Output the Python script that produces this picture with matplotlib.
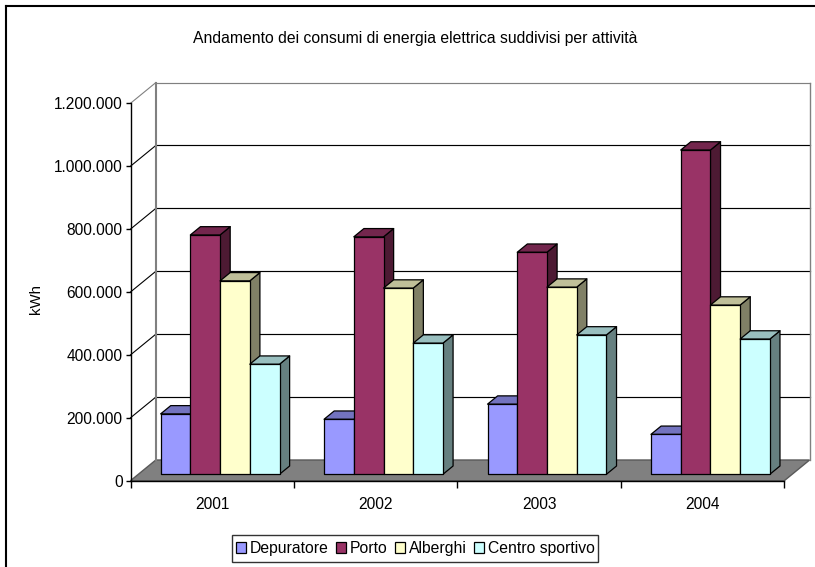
"""Andamento consumi elettrici per attivita': Excel-style 3D clustered bars drawn on a 2D axes."""
import matplotlib
matplotlib.use("Agg")
import matplotlib.pyplot as plt
from matplotlib.patches import Polygon, Rectangle
from matplotlib.ticker import FuncFormatter

plt.rcParams["font.family"] = ["Liberation Sans", "DejaVu Sans"]

years = ["2001", "2002", "2003", "2004"]
series_names = ["Depuratore", "Porto", "Alberghi", "Centro sportivo"]
depuratore = [192000, 175000, 223000, 127000]
porto = [761000, 755000, 706000, 1031000]
alberghi = [615000, 592000, 595000, 538000]
centro = [350000, 417000, 443000, 430000]
series_values = [depuratore, porto, alberghi, centro]

front_colors = ["#9999FF", "#993366", "#FFFFCC", "#CCFFFF"]
top_colors = ["#7373BF", "#73264D", "#BFBF99", "#99BFBF"]
side_colors = ["#4D4D80", "#4D1A33", "#808066", "#668080"]

W, H = 815, 567
fig = plt.figure(figsize=(W / 100, H / 100), dpi=100)
# axes is the front plane of the 3D box
ax = fig.add_axes([130.5 / W, 1 - 480.7 / H, 653.8 / W, 377.4 / H])
ax.set_xlim(0, 4)
ax.set_ylim(0, 1200000)
ax.patch.set_alpha(0)

# depth of the box and of the bars, in data units
DX = 25.3 * 4 / 653.8
DY = 20.7 * 1200000 / 377.4
BAR_START = 0.31
BAR_DEPTH = 0.40
BAR_W = 29.72 * 4 / 653.8


def poly(pts, z, **kw):
    ax.add_patch(Polygon(pts, closed=True, clip_on=False, zorder=z, **kw))


# floor
poly([(0, 0), (4, 0), (4 + DX, DY), (DX, DY)], 1, fc="#808080", ec="#595959", lw=1)

# back wall and side wall gridlines
for v in range(200000, 1200001, 200000):
    top = v == 1200000
    c = "#808080" if top else "black"
    ax.plot([DX, 4 + DX], [v + DY, v + DY], color=c, lw=0.85, clip_on=False, zorder=1.5)
    ax.plot([0, DX], [v, v + DY], color=c, lw=0.8, clip_on=False, zorder=1.5)
ax.plot([DX, DX], [DY, 1200000 + DY], color="#808080", lw=1.5, clip_on=False, zorder=1.6)
ax.plot([4 + DX, 4 + DX], [DY, 1200000 + DY], color="#808080", lw=1, clip_on=False, zorder=1.6)

# bars, left to right so that each side face is covered by the next bar
dx0, dy0 = BAR_START * DX, BAR_START * DY
dx1, dy1 = (BAR_START + BAR_DEPTH) * DX, (BAR_START + BAR_DEPTH) * DY
edge = dict(ec="black", lw=0.9, joinstyle="round")
for c, year in enumerate(years):
    left = c + (1 - 4 * BAR_W) / 2
    for s, vals in enumerate(series_values):
        v = vals[c]
        x0 = left + s * BAR_W + dx0
        x1 = x0 + BAR_W
        z = 2 + c + s * 0.1
        xb0, xb1 = x0 + dx1 - dx0, x1 + dx1 - dx0
        poly([(x1, dy0), (xb1, dy1), (xb1, v + dy1), (x1, v + dy0)], z,
             fc=side_colors[s], **edge)
        poly([(x0, v + dy0), (x1, v + dy0), (xb1, v + dy1), (xb0, v + dy1)], z,
             fc=top_colors[s], **edge)
        poly([(x0, dy0), (x1, dy0), (x1, v + dy0), (x0, v + dy0)], z,
             fc=front_colors[s], **edge)

# axes, ticks, labels
for side in ("top", "right"):
    ax.spines[side].set_visible(False)
ax.spines["left"].set_linewidth(1)
ax.spines["bottom"].set_linewidth(1)
ax.set_yticks(range(0, 1200001, 200000))
ax.yaxis.set_major_formatter(FuncFormatter(lambda v, _: f"{int(v):,}".replace(",", ".")))
ax.set_xticks(range(5))
ax.set_xticklabels([])
ax.set_xticks([i + 0.5 for i in range(4)], years, minor=True)
ax.tick_params(axis="x", which="minor", length=0, labelsize=11.2, pad=11.5)
ax.tick_params(axis="x", which="major", length=5, width=1)
ax.tick_params(axis="y", length=3.6, width=1, labelsize=11.2, pad=2)
ax.set_ylabel("kWh", fontsize=10.8)
ax.yaxis.set_label_coords((43 - 130.5) / 653.8, 0.482)

fig.text(415 / W, 1 - 38.5 / H, "Andamento dei consumi di energia elettrica suddivisi per attività",
         ha="center", va="center", fontsize=11.3)

# chart border, open at right and bottom
fig.add_artist(plt.Line2D([6 / W, 6 / W], [0, 1 - 6 / H], color="black", lw=1.5))
fig.add_artist(plt.Line2D([6 / W, 1], [1 - 6 / H, 1 - 6 / H], color="black", lw=1.5))

# legend with its own frame, the box is taller than matplotlib would make it
fig.add_artist(Rectangle((231.7 / W, 1 - 562 / H), 366.6 / W, 27 / H, transform=fig.transFigure,
                         fc="white", ec="#333333", lw=1))
handles = [Rectangle((0, 0), 1, 1, fc=c, ec="black", lw=0.9) for c in front_colors]
leg = fig.legend(handles, series_names, ncol=4, loc="center", bbox_to_anchor=(415.5 / W, 1 - 548.5 / H),
                 fontsize=11.3, frameon=False, handlelength=0.63, handleheight=0.63,
                 handletextpad=0.22, columnspacing=0.5, borderpad=0, borderaxespad=0)
leg.set_zorder(5)

fig.savefig("out.png", dpi=100)
